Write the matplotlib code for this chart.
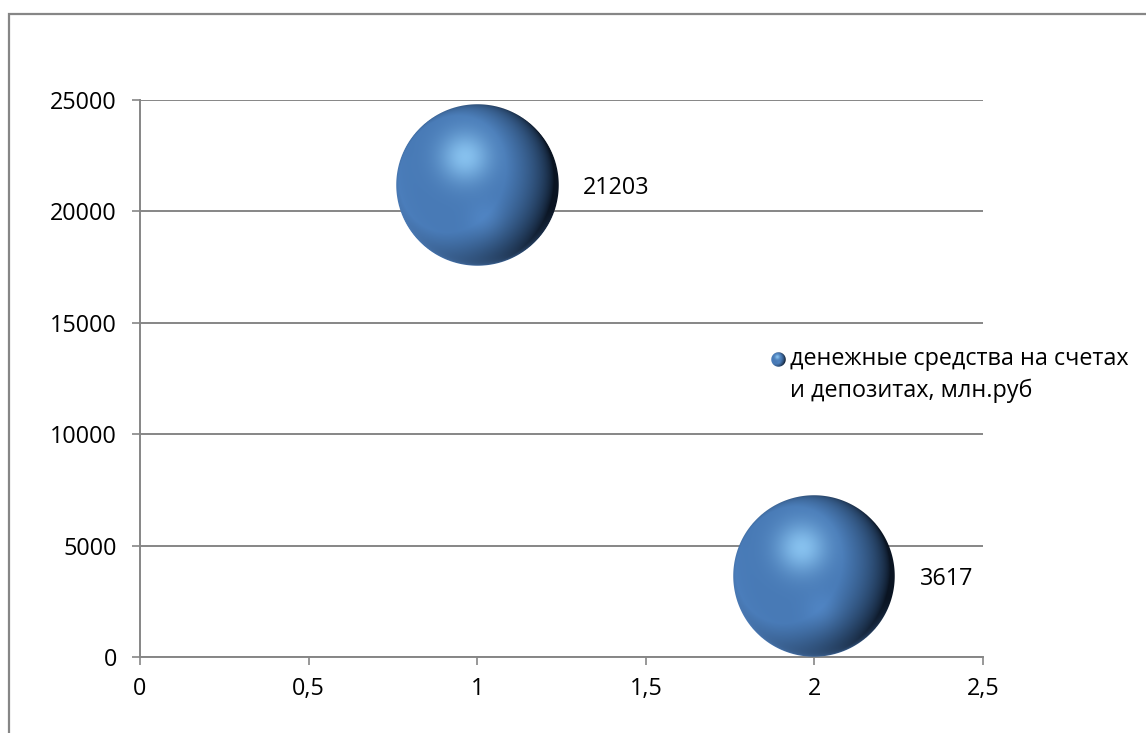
import matplotlib.pyplot as plt
import numpy as np
from matplotlib.offsetbox import OffsetImage, AnnotationBbox
from matplotlib.ticker import FuncFormatter, MultipleLocator
from matplotlib.patches import Rectangle

plt.rcParams['font.family'] = ['Open Sans', 'DejaVu Sans']

x_vals = [1, 2]
y_vals = [21203, 3617]
bubble_sizes = [1, 1]
series_name = 'денежные средства на счетах\nи депозитах, млн.руб'

DPI = 100
GRID = '#868686'
FS = 16.8


def sphere_image(radius_px):
    # shaded blue ball as an RGBA array
    n = int(radius_px * 2)
    c = (np.arange(n) + 0.5) / n * 2 - 1
    u, v = np.meshgrid(c, c)
    r2 = u ** 2 + v ** 2
    z = np.sqrt(np.clip(1 - r2, 0, 1))
    nx, ny, nz = u, -v, z

    L = np.array([-0.45, 0.2, 0.87])
    L = L / np.linalg.norm(L)
    ndl = nx * L[0] + ny * L[1] + nz * L[2]
    f = np.clip((ndl + 0.12) / 0.8, 0, 1) ** 0.85

    dark = np.array([10, 20, 34]) / 255
    mid = np.array([72, 122, 182]) / 255
    hi = np.array([150, 210, 252]) / 255
    rim_c = np.array([90, 144, 212]) / 255

    col = dark * (1 - f[..., None]) + mid * f[..., None]

    # soft highlight, upper left of centre
    h = 0.8 * np.exp(-((u + 0.15) ** 2 + (v + 0.35) ** 2) / (2 * 0.22 ** 2))
    col = col * (1 - h[..., None]) + hi * h[..., None]

    # faint reflection in the lower half
    g = np.exp(-((u - 0.1) ** 2 + (v - 0.42) ** 2) / (2 * 0.16 ** 2))
    col = col + np.array([0.03, 0.04, 0.05]) * g[..., None]

    # light rim along the bottom edge
    edge = np.clip(1 - z, 0, 1) ** 2.5
    below = np.clip(v * 1.0 - u * 0.4 + 0.1, 0, 1)
    rim = (0.85 * edge * below)[..., None]
    col = col * (1 - rim) + rim_c * rim

    alpha = np.clip((1 - np.sqrt(r2)) * radius_px, 0, 1)
    return np.dstack([np.clip(col, 0, 1), alpha])


fig = plt.figure(figsize=(11.46, 7.33), dpi=DPI)
ax = fig.add_axes([140 / 1146, 1 - 657 / 733, (983 - 140) / 1146, (657 - 100) / 733])

ax.set_xlim(0, 2.5)
ax.set_ylim(0, 25000)
ax.xaxis.set_major_locator(MultipleLocator(0.5))
ax.yaxis.set_major_locator(MultipleLocator(5000))
ax.xaxis.set_major_formatter(FuncFormatter(lambda v, p: f'{v:g}'.replace('.', ',')))
ax.yaxis.set_major_formatter(FuncFormatter(lambda v, p: f'{v:.0f}'))

ax.grid(axis='y', color=GRID, linewidth=1.4, zorder=0)
for s in ['top', 'right']:
    ax.spines[s].set_visible(False)
for s in ['left', 'bottom']:
    ax.spines[s].set_color(GRID)
    ax.spines[s].set_linewidth(1.4)
ax.tick_params(axis='both', direction='out', length=5.5, width=1.2, color=GRID,
               labelsize=FS, labelcolor='black')
ax.tick_params(axis='y', pad=11)
ax.tick_params(axis='x', pad=9)

max_size = max(bubble_sizes)
for x, y, s in zip(x_vals, y_vals, bubble_sizes):
    r = 81 * np.sqrt(s / max_size)
    img = sphere_image(r * 2)  # drawn at 2x, shown at half size
    ab = AnnotationBbox(OffsetImage(img, zoom=0.5 * 72 / DPI), (x, y), frameon=False,
                        box_alignment=(0.5, 0.5), annotation_clip=False, zorder=3)
    ax.add_artist(ab)
    ax.annotate(str(y), (x, y), xytext=(r + 25, -3), textcoords='offset pixels',
                ha='left', va='center', fontsize=FS, zorder=4)

# legend: small ball + series name
leg_ball = AnnotationBbox(OffsetImage(sphere_image(15), zoom=0.5 * 72 / DPI),
                          (779 / 1146, 1 - 360 / 733), xycoords='figure fraction',
                          frameon=False, box_alignment=(0.5, 0.5))
fig.add_artist(leg_ball)
fig.text(790 / 1146, 1 - 347 / 733, series_name, ha='left', va='top',
         fontsize=FS, linespacing=1.4)

# chart area border
fig.add_artist(Rectangle((9 / 1146, -0.1), 1.2, 1.1 - 14 / 733,
                         transform=fig.transFigure, fill=False,
                         edgecolor=GRID, linewidth=1.6))

fig.savefig('out.png', dpi=DPI)
